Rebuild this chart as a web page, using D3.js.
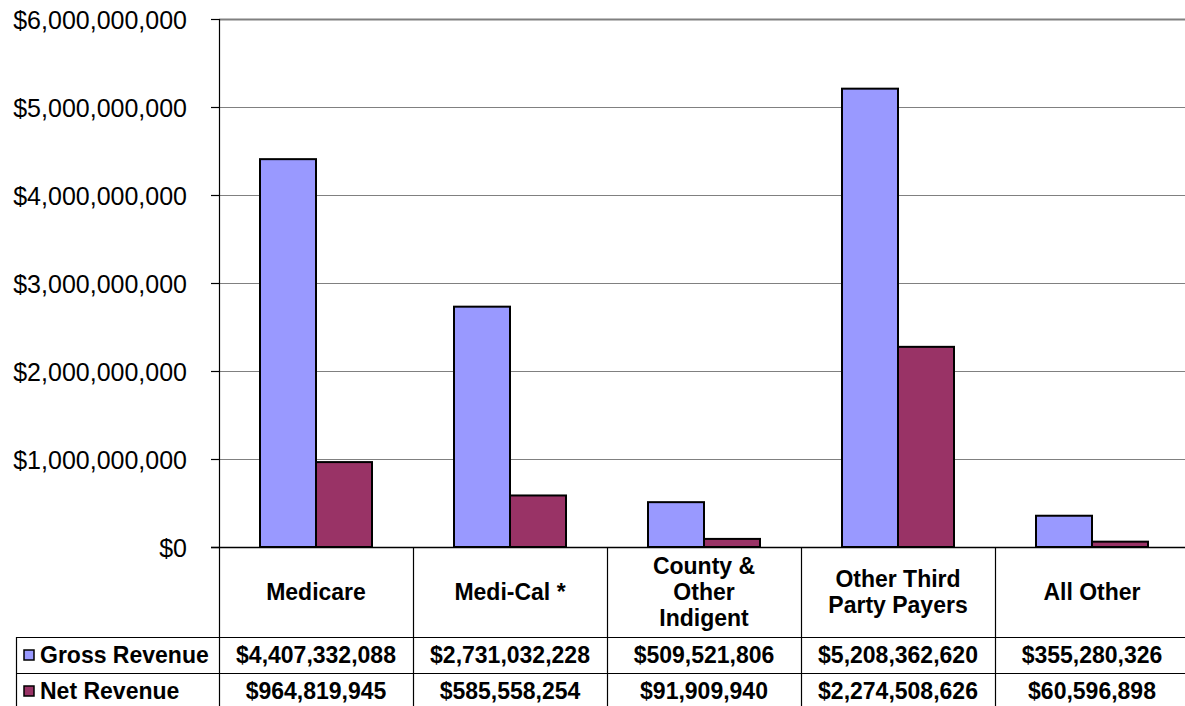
<!DOCTYPE html>
<html lang="en">
<head>
<meta charset="UTF-8">
<title>Gross and Net Revenue by Payer</title>
<script src="https://d3js.org/d3.v7.min.js"></script>
<style>
  body{margin:0;background:#fff;font-family:"Liberation Sans",Arial,Helvetica,sans-serif}
  svg{display:block}
  .tick-lbl{font-size:25px;fill:#000}
  .hdr{font-size:23px;font-weight:bold;fill:#000}
  .val{font-size:23px;font-weight:bold;fill:#000}
</style>
</head>
<body>
<div id="chart"></div>
<script>
// categories and series
const categories=[["Medicare"],["Medi-Cal *"],["County &","Other","Indigent"],["Other Third","Party Payers"],["All Other"]];
const seriesNames=["Gross Revenue","Net Revenue"];
const grossRevenue=[4407332088,2731032228,509521806,5208362620,355280326];
const netRevenue=[964819945,585558254,91909940,2274508626,60596898];
const yTicks=[0,1e9,2e9,3e9,4e9,5e9,6e9];
const colors=["#9999ff","#993366"];

const W=1185,H=706;
const plotL=219,plotT=19,plotB=547,colW=194;
const plotR=plotL+colW*categories.length;
const rowLines=[637,673,709];

const svg=d3.select("#chart").append("svg").attr("width",W).attr("height",H);

const x=d3.scaleBand().domain(d3.range(categories.length)).range([plotL,plotR]);
const y=d3.scaleLinear().domain([0,6e9]).range([plotB,plotT]);
const xs=d3.scaleBand().domain([0,1]).range([41,colW-41]);

const fmt=v=>"$"+d3.format(",")(v);

// gridlines
svg.append("g").selectAll("line").data(yTicks.filter(d=>d>0)).join("line")
  .attr("x1",plotL).attr("x2",plotR)
  .attr("y1",d=>Math.round(y(d))+.5).attr("y2",d=>Math.round(y(d))+.5)
  .attr("stroke","#808080").attr("stroke-width",d=>d===6e9?2:1.2);

// y axis
const yAxis=svg.append("g").attr("transform",`translate(${plotL},0)`)
  .call(d3.axisLeft(y).tickValues(yTicks).tickSize(8).tickPadding(24).tickFormat(d=>fmt(d)));
yAxis.select(".domain").remove();
yAxis.selectAll(".tick line").attr("stroke","#000").attr("stroke-width",1.2);
yAxis.selectAll(".tick text").attr("class","tick-lbl").attr("font-family",null).attr("font-size",null).attr("dy","0.36em");
svg.append("line").attr("x1",plotL+.5).attr("x2",plotL+.5).attr("y1",plotT).attr("y2",H)
  .attr("stroke","#000").attr("stroke-width",1.2);

// bars
const series=[grossRevenue,netRevenue];
series.forEach((vals,s)=>{
  svg.append("g").selectAll("rect").data(vals).join("rect")
    .attr("x",(d,i)=>x(i)+xs(s))
    .attr("y",d=>y(d))
    .attr("width",xs.bandwidth())
    .attr("height",d=>plotB-y(d))
    .attr("fill",colors[s]).attr("stroke","#000").attr("stroke-width",2);
});

// category axis line
svg.append("line").attr("x1",plotL-8).attr("x2",plotR).attr("y1",plotB+.5).attr("y2",plotB+.5)
  .attr("stroke","#000").attr("stroke-width",1.5);

// data table
const tbl=svg.append("g");
categories.forEach((c,i)=>{
  tbl.append("line").attr("x1",x(i)+colW+.5).attr("x2",x(i)+colW+.5).attr("y1",plotB).attr("y2",H)
    .attr("stroke","#000").attr("stroke-width",1.2);
  const cy=(plotB+rowLines[0])/2;
  const t=tbl.append("text").attr("class","hdr").attr("text-anchor","middle")
    .attr("x",x(i)+colW/2);
  c.forEach((ln,k)=>{
    t.append("tspan").attr("x",x(i)+colW/2)
      .attr("y",cy+(k-(c.length-1)/2)*26).attr("dy","0.36em").text(ln);
  });
});
rowLines.forEach(ry=>{
  tbl.append("line").attr("x1",16).attr("x2",plotR).attr("y1",ry+.5).attr("y2",ry+.5)
    .attr("stroke","#000").attr("stroke-width",1.2);
});
tbl.append("line").attr("x1",16.5).attr("x2",16.5).attr("y1",rowLines[0]).attr("y2",H)
  .attr("stroke","#000").attr("stroke-width",1.2);

series.forEach((vals,s)=>{
  const ry=(rowLines[s]+rowLines[s+1])/2;
  tbl.append("rect").attr("x",24).attr("y",ry-5).attr("width",10).attr("height",10)
    .attr("fill",colors[s]).attr("stroke","#000").attr("stroke-width",1.5);
  tbl.append("text").attr("class","val").attr("x",40).attr("y",ry).attr("dy","0.36em")
    .text(seriesNames[s]);
  vals.forEach((v,i)=>{
    tbl.append("text").attr("class","val").attr("text-anchor","middle")
      .attr("x",x(i)+colW/2).attr("y",ry).attr("dy","0.36em").text(fmt(v));
  });
});
</script>
</body>
</html>
